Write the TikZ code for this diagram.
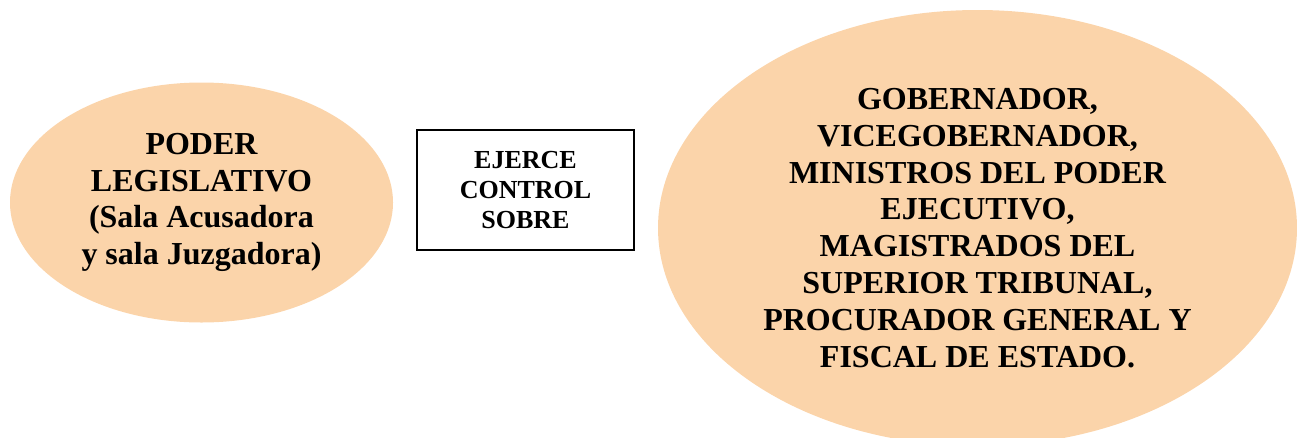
\documentclass[tikz,border=0pt]{standalone}
\usepackage{fontspec}
\setmainfont{Liberation Serif}
\usetikzlibrary{shapes.geometric}
\definecolor{peach}{RGB}{251,212,170}
\begin{document}
\begin{tikzpicture}[x=1pt,y=1pt,
  blob/.style={ellipse, fill=peach, draw=none, inner sep=0pt, align=center,
    font=\bfseries\fontsize{32}{36.8}\selectfont},
  boxnode/.style={rectangle, draw=black, line width=1.5pt, inner sep=0pt, align=center,
    minimum width=217pt, minimum height=120pt,
    font=\bfseries\fontsize{26}{30}\selectfont}]
\useasboundingbox (0,0) rectangle (1297,-437);
\node[blob, minimum width=383pt, minimum height=240pt] (leg) at (201.5,-202.5)
  {PODER\\LEGISLATIVO\\(Sala Acusadora\\y sala Juzgadora)};
\node[boxnode] (ctrl) at (525.5,-190) {EJERCE\\CONTROL\\SOBRE};
\node[blob, minimum width=639pt, minimum height=436pt] (gob) at (977.5,-228)
  {GOBERNADOR,\\VICEGOBERNADOR,\\MINISTROS DEL PODER\\EJECUTIVO,\\MAGISTRADOS DEL\\SUPERIOR TRIBUNAL,\\PROCURADOR GENERAL Y\\FISCAL DE ESTADO.};
\end{tikzpicture}
\end{document}
